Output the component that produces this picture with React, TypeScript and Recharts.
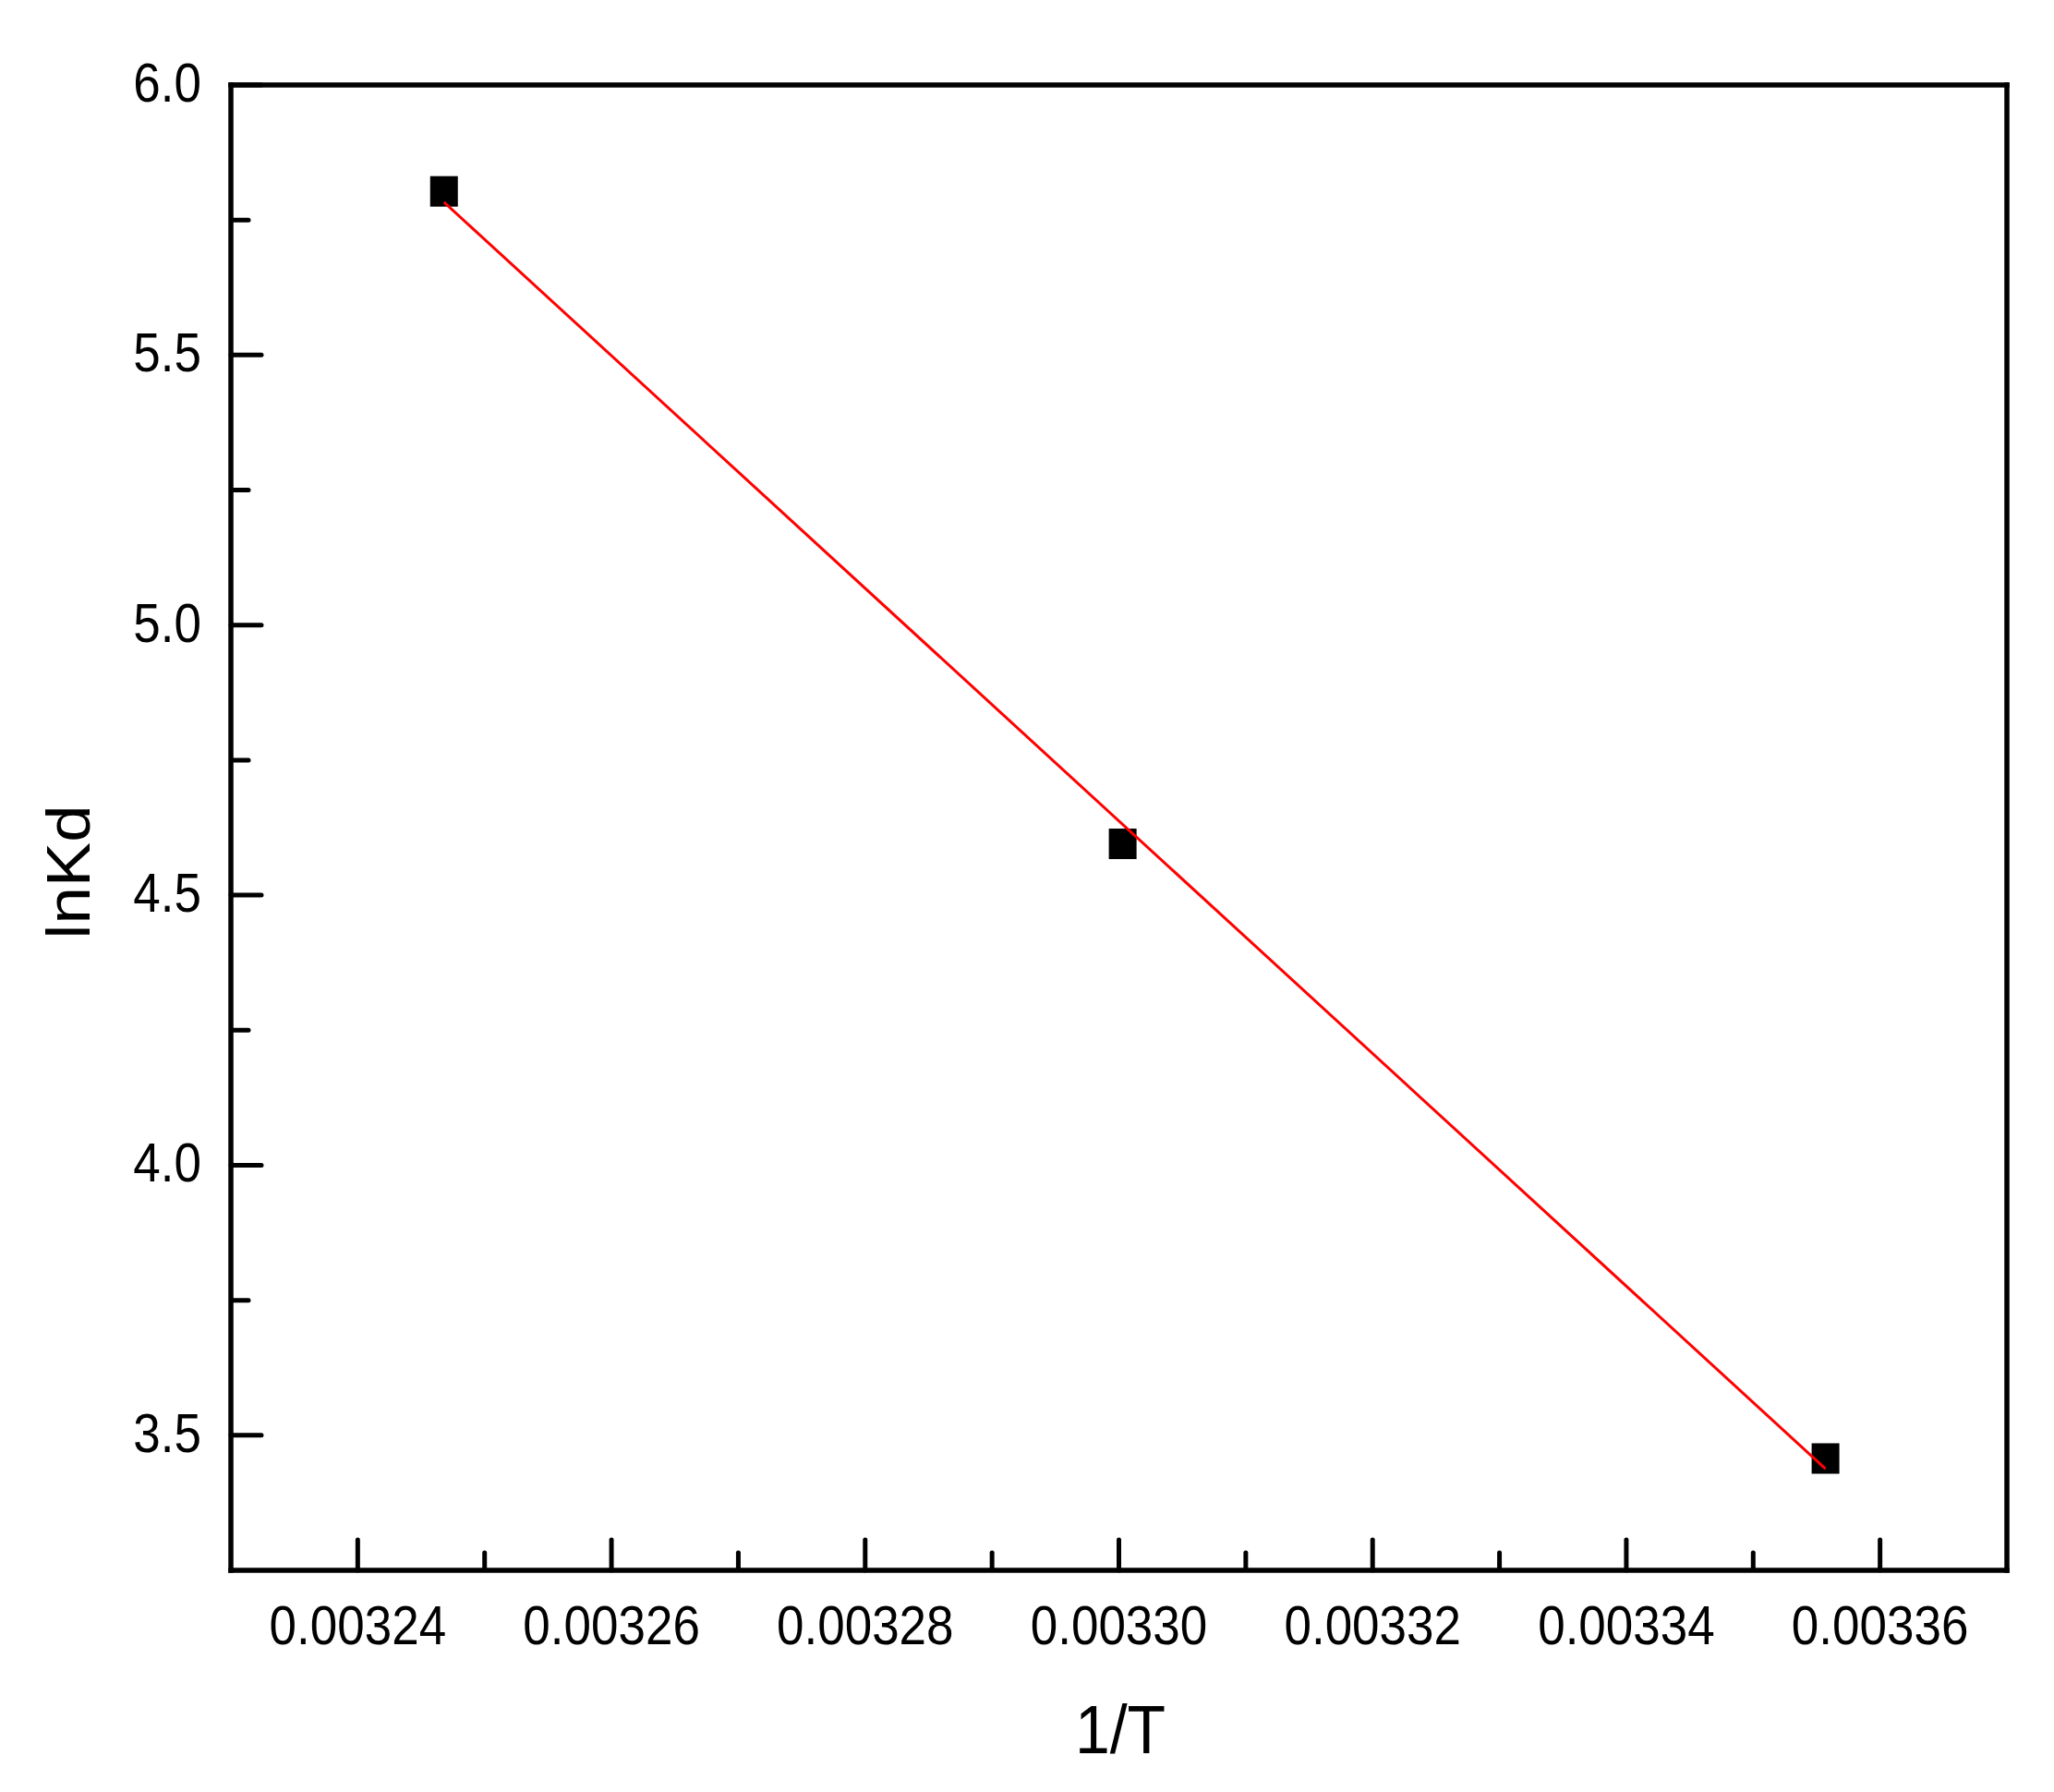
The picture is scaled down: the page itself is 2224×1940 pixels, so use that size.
import { ScatterChart, Scatter, XAxis, YAxis } from "recharts";

// 1/T (K^-1) and lnKd
const invT = [0.0032468, 0.0033003, 0.0033557];
const lnKd = [5.803, 4.595, 3.457];

// linear fit end points (red line)
const fitInvT = [0.0032468, 0.0033557];
const fitLnKd = [5.783, 3.438];

const xTicks = [0.00324, 0.00326, 0.00328, 0.0033, 0.00332, 0.00334, 0.00336];
const xMinorTicks = [0.00325, 0.00327, 0.00329, 0.00331, 0.00333, 0.00335];
const yTicks = [3.5, 4.0, 4.5, 5.0, 5.5, 6.0];
const yMinorTicks = [3.75, 4.25, 4.75, 5.25, 5.75];
const xDomain = [0.00323, 0.00337];
const yDomain = [3.25, 6.0];

const FONT = "'Liberation Sans', Arial, Helvetica, sans-serif";
const W = 2224;
const H = 1940;

const points = invT.map((x, i) => ({ x, y: lnKd[i] }));
const fitLine = fitInvT.map((x, i) => ({ x, y: fitLnKd[i] }));

const frameLine = { stroke: "#000", strokeWidth: 5.5, strokeLinecap: "square" as const };
const tickStroke = { stroke: "#000", strokeWidth: 5, strokeLinecap: "round" as const };

// x labels: axis is mirrored so the tick goes inward; label sits below the axis line
function XTickLabel({ x, y, payload }: any) {
  return (
    <text
      transform={`translate(${x},${y + 33 + 80}) scale(1,1.1)`}
      textAnchor="middle"
      fontSize={53}
      fontFamily={FONT}
      fill="#000"
    >
      {Number(payload.value).toFixed(5)}
    </text>
  );
}

function YTickLabel({ x, y, payload }: any) {
  return (
    <text
      transform={`translate(${x - 32},${y + 18}) scale(1,1.1)`}
      textAnchor="end"
      fontSize={53}
      fontFamily={FONT}
      fill="#000"
    >
      {Number(payload.value).toFixed(1)}
    </text>
  );
}

function EmptyTick() {
  return <g />;
}

function Square(props: any) {
  return <rect x={props.cx - 15} y={props.cy - 16.5} width={30} height={33} fill="#000" />;
}

function NoMark() {
  return <g />;
}

export default function App() {
  return (
    <div style={{ position: "absolute", left: 0, top: 0, width: W, height: H, background: "#fff" }}>
      <ScatterChart width={W} height={H} margin={{ left: 249, right: 50, top: 91, bottom: 240 }}>
        {/* main axes with labels */}
        <XAxis
          xAxisId={0}
          type="number"
          dataKey="x"
          domain={xDomain}
          ticks={xTicks}
          allowDataOverflow
          height={1}
          mirror
          tickSize={33}
          tickMargin={0}
          stroke="#000"
          strokeWidth={5}
          tickLine={tickStroke}
          axisLine={frameLine}
          tick={<XTickLabel />}
          interval={0}
        />
        <YAxis
          yAxisId={0}
          type="number"
          dataKey="y"
          domain={yDomain}
          ticks={yTicks}
          allowDataOverflow
          width={1}
          tickSize={0}
          tickMargin={0}
          stroke="#000"
          strokeWidth={5.5}
          tickLine={false}
          axisLine={frameLine}
          tick={<YTickLabel />}
          interval={0}
        />
        {/* inward major / minor ticks */}
        <XAxis xAxisId="minor" type="number" dataKey="x" domain={xDomain} ticks={xMinorTicks} allowDataOverflow height={1} mirror tickSize={18} stroke="#000" strokeWidth={5} tick={<EmptyTick />} axisLine={false} tickLine={tickStroke} interval={0} />
        <YAxis yAxisId="major" type="number" domain={yDomain} ticks={yTicks} allowDataOverflow width={1} mirror tickSize={33} stroke="#000" strokeWidth={5} tick={<EmptyTick />} axisLine={false} tickLine={tickStroke} interval={0} />
        <YAxis yAxisId="minor" type="number" domain={yDomain} ticks={yMinorTicks} allowDataOverflow width={1} mirror tickSize={18} stroke="#000" strokeWidth={5} tick={<EmptyTick />} axisLine={false} tickLine={tickStroke} interval={0} />
        {/* frame top / right */}
        <XAxis xAxisId="top" orientation="top" type="number" domain={xDomain} height={1} stroke="#000" strokeWidth={5.5} tick={false} tickLine={false} axisLine={frameLine} />
        <YAxis yAxisId="right" orientation="right" type="number" domain={yDomain} width={1} stroke="#000" strokeWidth={5.5} tick={false} tickLine={false} axisLine={frameLine} />

        <Scatter data={points} shape={<Square />} isAnimationActive={false} />
        <Scatter
          data={fitLine}
          shape={<NoMark />}
          line={{ stroke: "#ff0000", strokeWidth: 3 }}
          isAnimationActive={false}
        />
      </ScatterChart>
      <svg width={W} height={H} style={{ position: "absolute", left: 0, top: 0, pointerEvents: "none" }}>
        <text
          transform="translate(1213,1898) scale(1,1.1)"
          textAnchor="middle"
          fontSize={68}
          fontFamily={FONT}
          fill="#000"
        >
          1/T
        </text>
        <text
          transform="translate(97,944) rotate(-90) scale(1.1,1)"
          textAnchor="middle"
          fontSize={66}
          fontFamily={FONT}
          fill="#000"
        >
          lnKd
        </text>
      </svg>
    </div>
  );
}
